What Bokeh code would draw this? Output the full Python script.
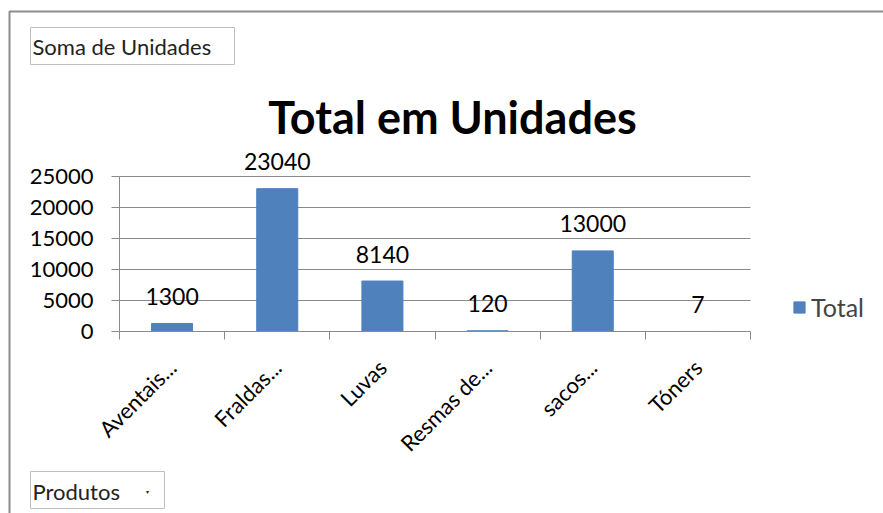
from bokeh.plotting import figure
from bokeh.models import (ColumnDataSource, FixedTicker, Label, BoxAnnotation, Range1d,
                          LegendItem, Legend, LinearAxis, Grid)
from bokeh.core.properties import value
from bokeh.embed import file_html
from bokeh.resources import INLINE
import math

categories = ["Aventais...", "Fraldas...", "Luvas", "Resmas de...", "sacos...", "Tóners"]
totals = [1300, 23040, 8140, 120, 13000, 7]
y_ticks = [0, 5000, 10000, 15000, 20000, 25000]
y_max = 25000

FONT = "Lato"
BAR = "#4F81BD"
GRID = "#8A8A8A"
W, H = 883, 513
# plot area placement on the canvas (pixels)
PL, PR, PT, PB = 119, 750, 176, 331

n = len(categories)
kx = (PR - PL) / n
ky = (PB - PT) / y_max

xs = [i + 0.5 for i in range(n)]
src = ColumnDataSource(dict(x=xs, top=totals, lab=[str(v) for v in totals]))

p = figure(width=W, height=H, output_backend="svg", toolbar_location=None,
           x_range=Range1d(-PL / kx, (W - PL) / kx),
           y_range=Range1d(-(H - PB) / ky, PB / ky),
           x_axis_location=None, y_axis_location=None,
           min_border=0)
p.outline_line_color = None
p.background_fill_color = "white"
p.border_fill_color = "white"
p.center = [c for c in p.center if not isinstance(c, Grid)]

# gridlines from tick values
p.segment(x0=0, x1=n, y0=y_ticks[1:], y1=y_ticks[1:], line_color=GRID, line_width=1)

r = p.vbar(x="x", top="top", width=0.39, source=src, fill_color=BAR, line_color=BAR)
p.text(x="x", y="top", text="lab", source=src, text_align="center", text_baseline="alphabetic",
       y_offset=-27, text_font=value(FONT), text_font_size="23px", text_color="black")

# axes
xa = LinearAxis(fixed_location=0, bounds=(0, n))
xa.ticker = FixedTicker(ticks=xs, minor_ticks=list(range(n + 1)))
xa.major_label_overrides = {x: c for x, c in zip(xs, categories)}
xa.major_label_orientation = math.pi / 4
xa.major_tick_out = 0
xa.major_tick_in = 0
xa.minor_tick_out = 8
xa.minor_tick_in = 0
xa.minor_tick_line_color = GRID
xa.axis_line_color = GRID
xa.major_label_text_font = FONT
xa.major_label_text_font_size = "22px"
xa.major_label_text_color = "black"
xa.major_label_standoff = 24
p.add_layout(xa, "below")

ya = LinearAxis(fixed_location=0, bounds=(0, y_max))
ya.ticker = FixedTicker(ticks=y_ticks)
ya.major_tick_out = 8
ya.major_tick_in = 0
ya.minor_tick_line_color = None
ya.axis_line_color = GRID
ya.major_tick_line_color = GRID
ya.major_label_text_font = FONT
ya.major_label_text_font_size = "22px"
ya.major_label_text_color = "black"
ya.major_label_standoff = 18
ya.formatter.use_scientific = False
p.add_layout(ya, "left")

# legend
legend = Legend(items=[LegendItem(label="Total", renderers=[r])], location=(792, H - 322),
                label_text_font=FONT, label_text_font_size="25px", glyph_width=14, glyph_height=14,
                border_line_color=None, background_fill_alpha=0, label_standoff=5,
                padding=0, margin=0, spacing=0, label_height=14)
p.add_layout(legend)

# outer frame lines
p.add_layout(BoxAnnotation(left=9, right=W + 20, top=H - 11, bottom=-20,
                           left_units="screen", right_units="screen", top_units="screen",
                           bottom_units="screen",
                           fill_alpha=0, line_color="#8C8C8C", line_alpha=1, line_width=2))

# title
p.add_layout(Label(x=452, y=H - 116, x_units="screen", y_units="screen", text="Total em Unidades",
                   text_align="center", text_baseline="middle", text_font=FONT, text_font_size="45px",
                   text_font_style="bold", text_color="black"))

# field buttons
p.add_layout(BoxAnnotation(left=30, right=234, top=H - 27, bottom=H - 64,
                           left_units="screen", right_units="screen", top_units="screen",
                           bottom_units="screen", fill_color="white", fill_alpha=1,
                           line_color="#BFBFBF", line_alpha=1, line_width=1))
p.add_layout(Label(x=32, y=H - 46, x_units="screen", y_units="screen", text="Soma de Unidades",
                   text_baseline="middle", text_font=FONT, text_font_size="22px", text_color="#222222"))
p.add_layout(BoxAnnotation(left=30, right=164, top=H - 471, bottom=H - 508,
                           left_units="screen", right_units="screen", top_units="screen",
                           bottom_units="screen", fill_color="white", fill_alpha=1,
                           line_color="#BFBFBF", line_alpha=1, line_width=1))
p.add_layout(Label(x=32, y=H - 491, x_units="screen", y_units="screen", text="Produtos",
                   text_baseline="middle", text_font=FONT, text_font_size="22px", text_color="#222222"))
p.add_layout(Label(x=147, y=H - 491, x_units="screen", y_units="screen", text="▾",
                   text_align="center", text_baseline="middle", text_font=FONT, text_font_size="6px",
                   text_color="#222222"))

open("out.html", "w").write(file_html(p, INLINE))
